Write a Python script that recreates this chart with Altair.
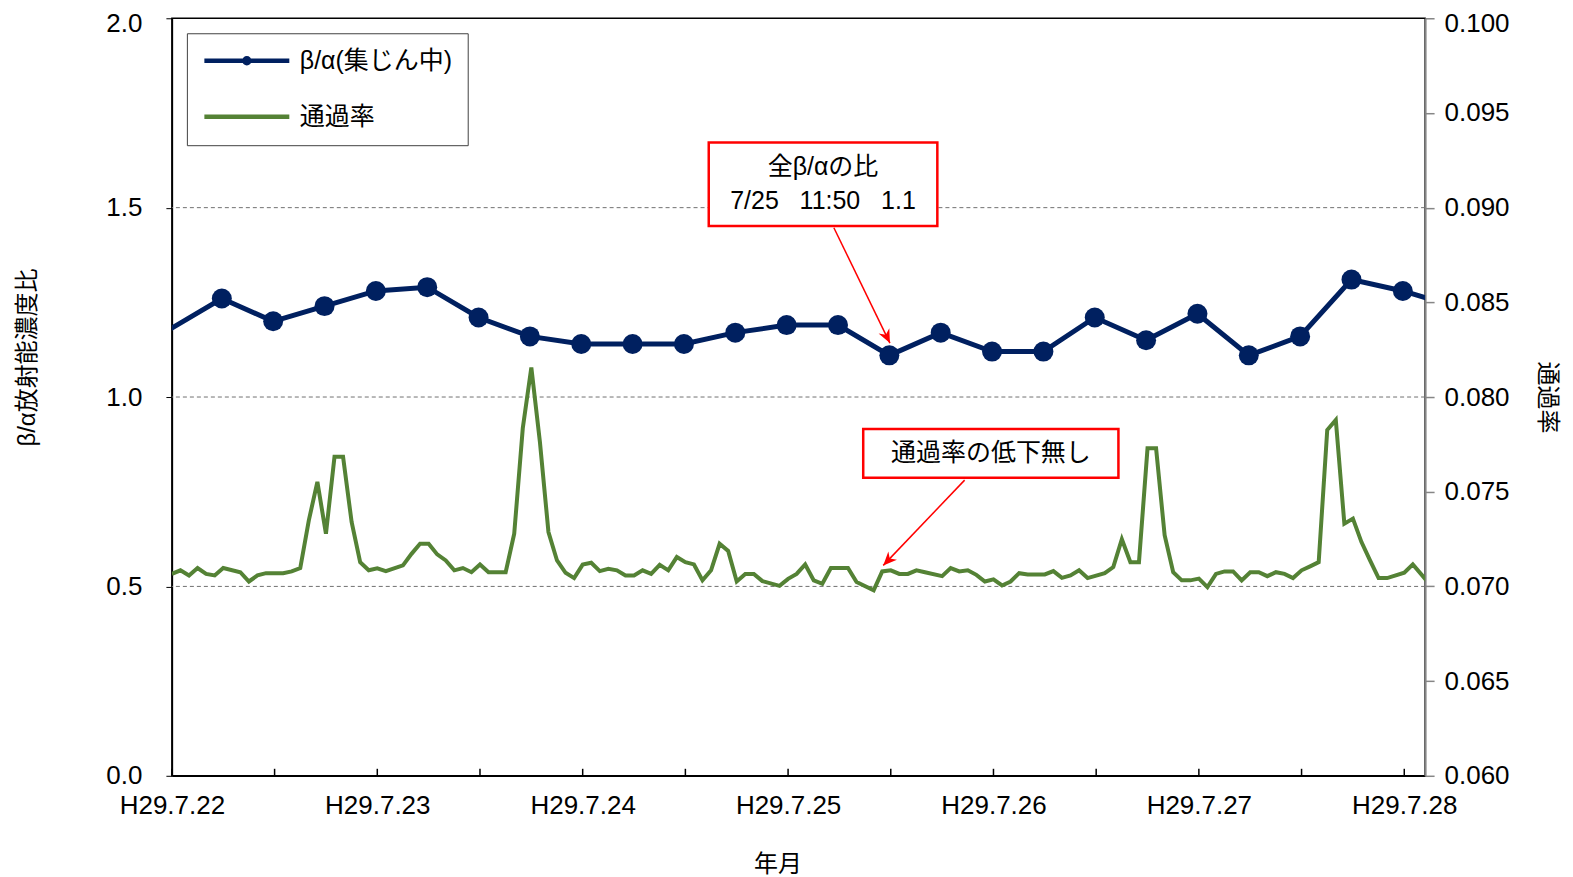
import altair as alt
import pandas as pd

FONT = "Liberation Sans, Noto Sans CJK JP"
BLUE = "#002060"
GREEN = "#548235"
S_BA = "β/α(集じん中)"
S_TR = "通過率"

# ---- β/α series (6-hourly) ----
ba_times = [
    "2017-07-21 23:50",
    "2017-07-22 05:50", "2017-07-22 11:50", "2017-07-22 17:50", "2017-07-22 23:50",
    "2017-07-23 05:50", "2017-07-23 11:50", "2017-07-23 17:50", "2017-07-23 23:50",
    "2017-07-24 05:50", "2017-07-24 11:50", "2017-07-24 17:50", "2017-07-24 23:50",
    "2017-07-25 05:50", "2017-07-25 11:50", "2017-07-25 17:50", "2017-07-25 23:50",
    "2017-07-26 05:50", "2017-07-26 11:50", "2017-07-26 17:50", "2017-07-26 23:50",
    "2017-07-27 05:50", "2017-07-27 11:50", "2017-07-27 17:50", "2017-07-27 23:50",
    "2017-07-28 05:50",
]
ba_values = [1.18, 1.26, 1.20, 1.24, 1.28, 1.29, 1.21, 1.16, 1.14, 1.14, 1.14, 1.17, 1.19,
             1.19, 1.11, 1.17, 1.12, 1.12, 1.21, 1.15, 1.22, 1.11, 1.16, 1.31, 1.28, 1.24]

# ---- 通過率 series (hours after 2017-07-22 00:00) ----
tr_hours = [0, 1, 2, 3, 4, 5, 6, 8, 9, 10, 11, 13, 14, 15, 16, 17, 18, 19, 20, 21, 22, 23,
            24, 25, 27, 28, 29, 30, 31, 32, 33, 34, 35, 36, 37, 39, 40, 41, 42, 43, 44, 45,
            46, 47, 48, 49, 50, 51, 52, 53, 54, 55, 56, 57, 58, 59, 60, 61, 62, 63, 64, 65,
            66, 67, 68, 69, 71, 72, 73, 74, 75, 76, 77, 79, 80, 82, 83, 84, 85, 86, 87, 88,
            90, 91, 92, 93, 94, 95, 96, 97, 98, 99, 100, 102, 103, 104, 105, 106, 107, 109,
            110, 111, 112, 113, 114, 115, 116, 117, 118, 119, 120, 121, 122, 123, 124, 125,
            126, 127, 128, 129, 130, 131, 132, 133, 134, 135, 136, 137, 138, 139, 140, 141,
            142, 144, 145, 147]
tr_values = [0.07066, 0.07085, 0.07058, 0.07097, 0.07066, 0.07058, 0.07097, 0.07075, 0.07026,
             0.07058, 0.07070, 0.07070, 0.07079, 0.07097, 0.07349, 0.07552, 0.07278, 0.07685,
             0.07685, 0.07340, 0.07128, 0.07085, 0.07095, 0.07081, 0.07111, 0.07172, 0.07225,
             0.07225, 0.07169, 0.07137, 0.07085, 0.07097, 0.07075, 0.07116, 0.07075, 0.07075,
             0.07278, 0.07835, 0.08156, 0.07764, 0.07287, 0.07137, 0.07072, 0.07044, 0.07115,
             0.07125, 0.07081, 0.07093, 0.07085, 0.07058, 0.07058, 0.07085, 0.07066, 0.07114,
             0.07085, 0.07155, 0.07128, 0.07116, 0.07032, 0.07085, 0.07225, 0.07187, 0.07026,
             0.07066, 0.07066, 0.07028, 0.07003, 0.07040, 0.07066, 0.07116, 0.07032, 0.07014,
             0.07097, 0.07097, 0.07023, 0.06979, 0.07079, 0.07085, 0.07066, 0.07066, 0.07085,
             0.07075, 0.07054, 0.07097, 0.07079, 0.07085, 0.07061, 0.07026, 0.07037, 0.07005,
             0.07026, 0.07070, 0.07063, 0.07063, 0.07081, 0.07045, 0.07058, 0.07085, 0.07044,
             0.07070, 0.07102, 0.07249, 0.07128, 0.07128, 0.07729, 0.07729, 0.07270, 0.07075,
             0.07032, 0.07032, 0.07041, 0.06996, 0.07066, 0.07079, 0.07079, 0.07032, 0.07075,
             0.07075, 0.07054, 0.07075, 0.07066, 0.07044, 0.07085, 0.07106, 0.07128, 0.07826,
             0.07879, 0.07331, 0.07358, 0.07234, 0.07137, 0.07044, 0.07044, 0.07072, 0.07116,
             0.07010]

# axis ticks / gridlines
day_ticks = [22, 23, 24, 25, 26, 27, 28]
minor_tick_hours = [0, 12, 24, 36, 48, 60, 72, 84, 96, 108, 120, 132, 144]
left_ticks = [0.0, 0.5, 1.0, 1.5, 2.0]
right_ticks = [0.060, 0.065, 0.070, 0.075, 0.080, 0.085, 0.090, 0.095, 0.100]
grid_values = [0.5, 1.0, 1.5]

# annotations (hours after 2017-07-22 00:00, left-axis units)
box_h1 = [62.73, 80.78]
box_h2 = [89.44, 110.6]
box_v1 = [1.4517, 0.7868]
box_v2 = [1.672, 0.9158]
note_text = ["全β/αの比", "7/25\u00a0\u00a0\u00a011:50\u00a0\u00a0\u00a01.1", "通過率の低下無し"]
note_h = [76.08, 76.08, 95.7]
note_v = [1.606, 1.518, 0.8517]
arrow_h1 = [77.35, 92.63]
arrow_v1 = [1.447, 0.7806]
arrow_h2 = [83.9, 83.12]
arrow_v2 = [1.1425, 0.5555]
arrow_angle = [154, 223.7]

W, H = 1254, 758

base = pd.Timestamp("2017-07-22 00:00")
def hrs(h):
    return base + pd.to_timedelta(h, unit="h")

ba_df = pd.DataFrame({"t": pd.to_datetime(ba_times), "v": ba_values, "series": S_BA})
lo = base
hi = base + pd.Timedelta(hours=146, minutes=26)
ba_pts = ba_df[(ba_df["t"] >= lo) & (ba_df["t"] <= hi)]
tr_df = pd.DataFrame({"t": [hrs(h) for h in tr_hours], "v": tr_values, "series": S_TR})
tick_df = pd.DataFrame({"t": [hrs(h) for h in minor_tick_hours]})
grid_df = pd.DataFrame({"g": grid_values})
box_df = pd.DataFrame({"t1": [hrs(h) for h in box_h1], "t2": [hrs(h) for h in box_h2],
                       "v1": box_v1, "v2": box_v2})
note_df = pd.DataFrame({"t": [hrs(h) for h in note_h], "v": note_v, "txt": note_text})
arrow_df = pd.DataFrame({"t1": [hrs(h) for h in arrow_h1], "v1": arrow_v1,
                         "t2": [hrs(h) for h in arrow_h2], "v2": arrow_v2,
                         "ang": arrow_angle})

X_DOMAIN = [alt.DateTime(year=2017, month=7, date=22, hours=0, minutes=0),
            alt.DateTime(year=2017, month=7, date=28, hours=2, minutes=26)]
xscale = alt.Scale(domain=X_DOMAIN)
yscale_l = alt.Scale(domain=[0, 2], nice=False, zero=False)
yscale_r = alt.Scale(domain=[0.06, 0.10], nice=False, zero=False)

x_axis = alt.Axis(
    values=[alt.DateTime(year=2017, month=7, date=d) for d in day_ticks],
    labelExpr="'H29.' + (month(datum.value) + 1) + '.' + date(datum.value)",
    ticks=False, tickSize=0, labelPadding=17, grid=False, labelFlush=False,
    domainColor="black", domainWidth=1.5,
    title="年月", titleX=606, titleY=89, titleBaseline="middle",
)
left_axis = alt.Axis(
    values=left_ticks, format=".1f", grid=False, orient="left",
    domainColor="black", domainWidth=1.5, tickColor="black", tickSize=6,
    labelPadding=24, labelFlush=False,
    labelOffset=alt.condition("datum.value >= 1.99", alt.value(5), alt.value(0)),
    title="β/α放射能濃度比", titleAngle=270, titleX=-144, titleY=339,
    titleBaseline="middle", titleAlign="center",
)
right_axis = alt.Axis(
    values=right_ticks, format=".3f", grid=False, orient="right",
    domainColor="#868686", domainWidth=2, tickColor="#868686", tickSize=9, tickWidth=1.5,
    labelPadding=10, labelFlush=False,
    labelOffset=alt.condition("datum.value >= 0.0999", alt.value(5), alt.value(0)),
    title="通過率", titleAngle=90, titleX=121, titleY=H / 2,
    titleBaseline="middle", titleAlign="center",
)

LEG_LINE = "M-1,0L7.5,0"
LEG_DOT = "M-1,0L7.5,0M3,0A0.25,0.25,0,1,0,3.5,0A0.25,0.25,0,1,0,3,0"
legend = alt.Legend(
    title=None, orient="none", legendX=15, legendY=15, padding=15,
    strokeColor="#404040", fillColor="white",
    symbolType={"expr": f"datum.value == '{S_TR}' ? '{LEG_LINE}' : '{LEG_DOT}'"},
    symbolSize=400, symbolStrokeWidth=4.5,
    labelFont=FONT, labelFontSize=25, labelColor="black", labelOffset=73,
    rowPadding=30, labelLimit=0,
)
color = alt.Color("series:N", scale=alt.Scale(domain=[S_BA, S_TR], range=[BLUE, GREEN]),
                  legend=legend)

def X(field):
    return alt.X(field, scale=xscale, axis=x_axis)

def YL(field):
    return alt.Y(field, scale=yscale_l, axis=left_axis)

green_line = alt.Chart(tr_df).mark_line(strokeWidth=4, clip=True).encode(
    x=X("t:T"),
    y=alt.Y("v:Q", scale=yscale_r, axis=right_axis),
    color=color,
)

blue_line = alt.Chart(ba_df).mark_line(strokeWidth=5, clip=True).encode(
    x=X("t:T"), y=YL("v:Q"), color=color,
)
grid = alt.Chart(grid_df).mark_rule(strokeDash=[4, 3], color="#707070", strokeWidth=1).encode(
    y=YL("g:Q"),
)
ticks = alt.Chart(tick_df).mark_rule(color="black", strokeWidth=1.5).encode(
    x=X("t:T"), y=alt.value(H), y2=alt.value(H - 7),
)
blue_pts = alt.Chart(ba_pts).mark_point(filled=True, size=400, opacity=1, color=BLUE,
                                        shape="circle").encode(
    x=X("t:T"), y=YL("v:Q"),
)
boxes = alt.Chart(box_df).mark_rect(fill="white", stroke="#ff0000", strokeWidth=2.5).encode(
    x=X("t1:T"), x2="t2:T", y=YL("v1:Q"), y2="v2:Q",
)
notes = alt.Chart(note_df).mark_text(font=FONT, fontSize=25, color="black",
                                     align="center", baseline="middle").encode(
    x=X("t:T"), y=YL("v:Q"), text="txt:N",
)
arrows = alt.Chart(arrow_df).mark_rule(color="#ff0000", strokeWidth=1.5).encode(
    x=X("t1:T"), x2="t2:T", y=YL("v1:Q"), y2="v2:Q",
)
heads = alt.Chart(arrow_df).mark_point(
    shape="M0,0L0.7,1.6L0,1.1L-0.7,1.6Z", filled=True, size=290, opacity=1,
    color="#ff0000", strokeWidth=0,
).encode(
    x=X("t2:T"), y=YL("v2:Q"),
    angle=alt.Angle("ang:Q", scale=None),
)

left_layer = alt.layer(blue_line, grid, ticks, blue_pts, boxes, notes, arrows, heads)

chart = alt.layer(left_layer, green_line).resolve_scale(y="independent").properties(
    width=W, height=H,
    autosize=alt.AutoSizeParams(type="none"),
    padding={"left": 164, "top": 10, "right": 140, "bottom": 100},
).configure(
    font=FONT,
).configure_view(
    stroke="black", strokeWidth=1.5,
).configure_axis(
    labelFont=FONT, titleFont=FONT, labelFontSize=26, titleFontSize=24,
    labelColor="black", titleColor="black", titleFontWeight="normal",
)

chart.save("out.html", embed_options={"renderer": "svg", "actions": False})
